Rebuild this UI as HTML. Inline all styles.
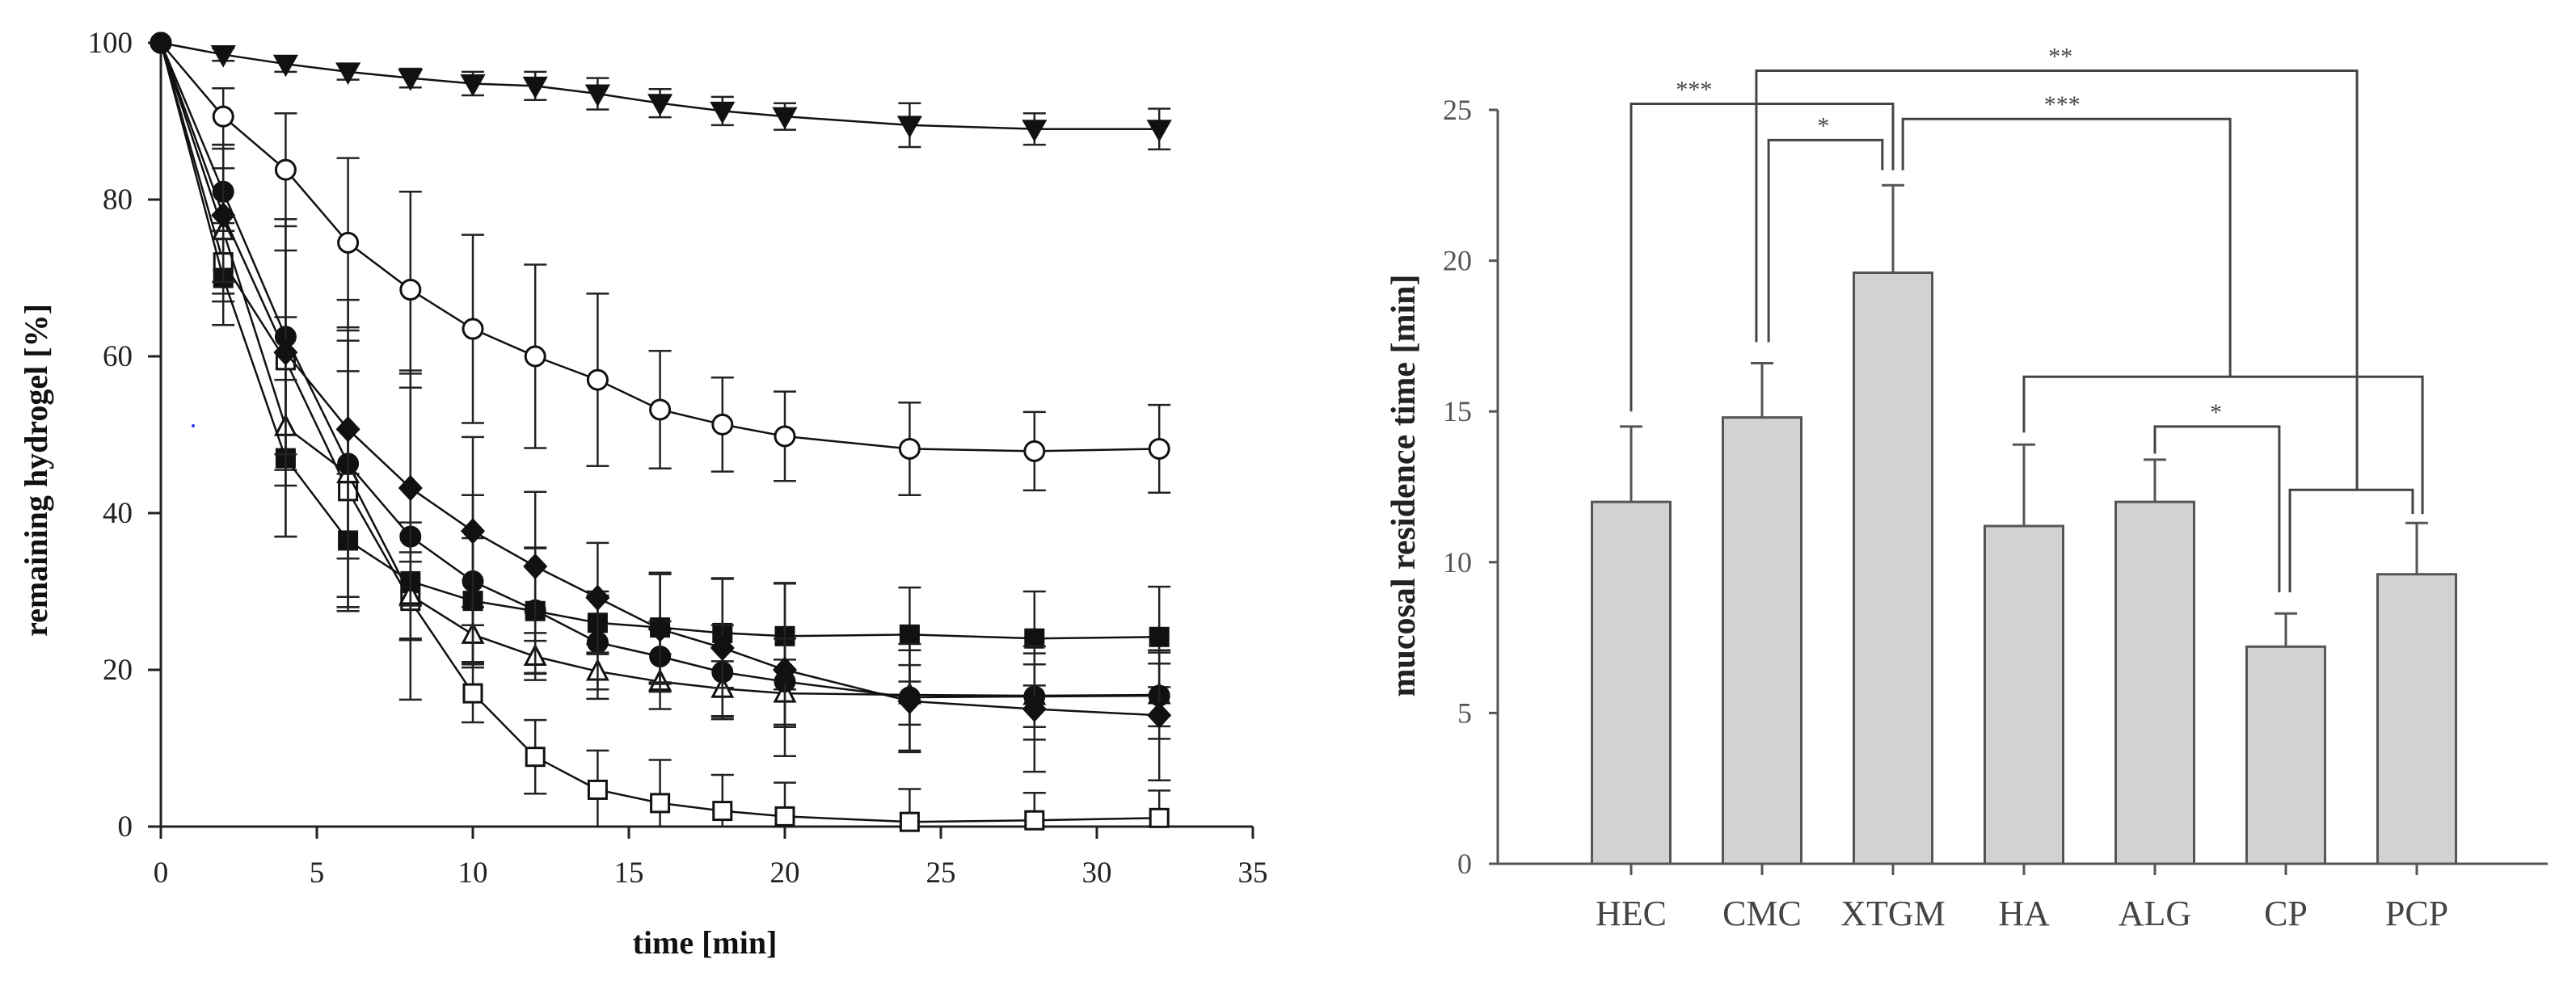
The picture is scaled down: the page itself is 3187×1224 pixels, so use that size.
<!DOCTYPE html>
<html><head><meta charset="utf-8"><style>
html,body{margin:0;padding:0;background:#fff;}
svg{display:block;}
</style></head><body>
<svg id="chart" width="3187" height="1224" viewBox="0 0 3187 1224" xmlns="http://www.w3.org/2000/svg" font-family="Liberation Serif, serif"></svg>
<script>
// ---------- Left chart data ----------
const times = [0,2,4,6,8,10,12,14,16,18,20,24,28,32];
const xTicks = [0,5,10,15,20,25,30,35];
const yTicksL = [0,20,40,60,80,100];
const triDownVals = [100,98.5,97.3,96.3,95.5,94.8,94.5,93.5,92.3,91.3,90.6,89.5,89,89];
const triDownErr  = [0,0.8,1,1,1.2,1.5,1.8,2,1.8,1.8,1.7,2.8,2,2.6];
const openCircVals = [100,90.6,83.8,74.5,68.5,63.5,60,57,53.2,51.3,49.8,48.2,47.9,48.2];
const openCircErr  = [0,3.6,7.2,10.8,12.5,12,11.7,11,7.5,6,5.7,5.9,5,5.6];
const diamondVals = [100,78,60.5,50.7,43.2,37.7,33.2,29.2,25.2,22.8,20,16,15,14.2];
const diamondErr  = [0,8.5,17,16.5,15,12,9.5,7,7,8.8,11,6.5,8,8.3];
const fCircVals = [100,81,62.5,46.3,37,31.3,27.6,23.5,21.7,19.7,18.5,16.5,16.6,16.7];
const fCircErr  = [0,6,15,17,20.8,11,8,6,4.5,6,5.5,6.8,5.5,5.5];
const fSqVals = [100,70,47,36.5,31.3,28.8,27.5,26,25.4,24.7,24.3,24.5,24,24.2];
const fSqErr  = [0,6,10,8.5,7.5,8,8,4,7,7,6.8,6,6,6.4];
const oTriVals = [100,76,51,45,29.5,24.5,21.7,19.8,18.5,17.6,17,16.8,16.7,16.8];
const oTriErr  = [0,8,14,17,5.5,3.5,3,3.5,3.5,3.5,4.3,3.8,4,4];
const oSqVals = [100,72,59.5,42.8,28.8,17,8.9,4.7,3,2,1.3,0.6,0.8,1.1];
const oSqErr  = [0,5,14,15.3,5,3.7,4.7,5,5.5,4.6,4.3,4.2,3.5,3.5];

// ---------- Right chart data ----------
const categories = ["HEC","CMC","XTGM","HA","ALG","CP","PCP"];
const residence = [12,14.8,19.6,11.2,12,7.2,9.6];
const residenceErr = [2.5,1.8,2.9,2.7,1.4,1.1,1.7];
const yTicksR = [0,5,10,15,20,25];

const NS="http://www.w3.org/2000/svg";
const svg=document.getElementById('chart');
function el(tag,attrs,parent){const e=document.createElementNS(NS,tag);for(const k in attrs)e.setAttribute(k,attrs[k]);(parent||svg).appendChild(e);return e;}

// ----- left axes -----
const LX0=199, LXS=(1550-199)/35, LY0=1023, LYS=(1023-53)/100;
const lx=v=>LX0+v*LXS, ly=v=>LY0-v*LYS;
const gL=el('g',{});


const axL=el('g',{stroke:'#222','stroke-width':3,fill:'none'},gL);


el('line',{x1:lx(0),y1:ly(100),x2:lx(0),y2:ly(0)+15},axL);
el('line',{x1:lx(0)-16,y1:ly(0),x2:lx(35),y2:ly(0)},axL);
xTicks.forEach(t=>{
  el('line',{x1:lx(t),y1:ly(0),x2:lx(t),y2:ly(0)+15},axL);
  const tx=el('text',{x:lx(t),y:1092,'font-size':37,'text-anchor':'middle',fill:'#222'},gL);
  tx.textContent=t;
  
  
});
yTicksL.forEach(t=>{
  el('line',{x1:lx(0)-16,y1:ly(t),x2:lx(0),y2:ly(t)},axL);
  const tx=el('text',{x:164,y:ly(t)+12,'font-size':37,'text-anchor':'end',fill:'#222'},gL);
  tx.textContent=t;
  
  
});
const xtl=el('text',{x:872,y:1180,'font-size':40,'font-weight':'bold','text-anchor':'middle',fill:'#111'},gL);
xtl.textContent='time [min]';


const ytl=el('text',{x:0,y:0,'font-size':40,'font-weight':'bold','text-anchor':'middle',fill:'#111',transform:'translate(58,582) rotate(-90)'},gL);
ytl.textContent='remaining hydrogel [%]';



function marker(type,x,y,g){
  const s=12;
  const filled=type.startsWith('f');
  const st={stroke:'#111','stroke-width':3,fill:filled?'#111':'#fff'};
  if(type.endsWith('circ')) return el('circle',Object.assign({cx:x,cy:y,r:s},st),g);
  if(type.endsWith('sq')) return el('rect',Object.assign({x:x-11,y:y-11,width:22,height:22},st),g);
  if(type==='fdiamond') return el('polygon',Object.assign({points:`${x},${y-14} ${x+13},${y} ${x},${y+14} ${x-13},${y}`},st),g);
  if(type==='ftridown') return el('polygon',Object.assign({points:`${x-13},${y-10} ${x+13},${y-10} ${x},${y+13}`},st),g);
  if(type==='otri') return el('polygon',Object.assign({points:`${x-12},${y+10} ${x+12},${y+10} ${x},${y-13}`},st),g);
}
const series=[
  ['open-square',oSqVals,oSqErr,'osq'],
  ['open-triangle',oTriVals,oTriErr,'otri'],
  ['filled-square',fSqVals,fSqErr,'fsq'],
  ['filled-circle',fCircVals,fCircErr,'fcirc'],
  ['filled-diamond',diamondVals,diamondErr,'fdiamond'],
  ['open-circle',openCircVals,openCircErr,'ocirc'],
  ['filled-triangle-down',triDownVals,triDownErr,'ftridown']
];
series.forEach(([name,vals,errs,mk])=>{
  const g=el('g',{},gL);
  
  
  const eg=el('g',{stroke:'#222','stroke-width':2.5},g);
  times.forEach((t,i)=>{
    if(!errs[i])return;
    const x=lx(t),y1=ly(Math.min(100,vals[i]+errs[i])),y2=ly(Math.max(0,vals[i]-errs[i]));
    el('line',{x1:x,y1:y1,x2:x,y2:y2},eg);
    el('line',{x1:x-14,y1:y1,x2:x+14,y2:y1},eg);
    el('line',{x1:x-14,y1:y2,x2:x+14,y2:y2},eg);
  });
  const pts=times.map((t,i)=>lx(t)+','+ly(vals[i])).join(' ');
  const pl=el('polyline',{points:pts,fill:'none',stroke:'#111','stroke-width':2.5},g);
  
  
  times.forEach((t,i)=>{
    const m=marker(i===0?'fcirc':mk,lx(t),ly(vals[i]),g);
    
    
  });
});

// ----- right chart -----
const RX0=1853, RY0=1069, RYS=(1069-136)/25, C0=2018, CS=162, BW=97;
const rx=i=>C0+i*CS, ry=v=>RY0-v*RYS;
const gR=el('g',{});


const axR=el('g',{stroke:'#555','stroke-width':3,fill:'none'},gR);


el('line',{x1:RX0,y1:ry(25),x2:RX0,y2:RY0},axR);
el('line',{x1:RX0-10,y1:RY0,x2:3152,y2:RY0},axR);
yTicksR.forEach(t=>{
  el('line',{x1:RX0-11,y1:ry(t),x2:RX0,y2:ry(t)},axR);
  const tx=el('text',{x:1821,y:ry(t)+12,'font-size':36,'text-anchor':'end',fill:'#555'},gR);
  tx.textContent=t;
  
  
});
categories.forEach((c,i)=>{
  const x=rx(i);
  el('line',{x1:x,y1:RY0,x2:x,y2:RY0+14},axR);
  const b=el('rect',{x:x-BW/2,y:ry(residence[i]),width:BW,height:RY0-ry(residence[i]),fill:'#d1d2d4',stroke:'#555','stroke-width':3},gR);
  
  
  const top=ry(residence[i]+residenceErr[i]);
  const eb=el('g',{stroke:'#555','stroke-width':3},gR);
  
  
  el('line',{x1:x,y1:ry(residence[i]),x2:x,y2:top},eb);
  el('line',{x1:x-14,y1:top,x2:x+14,y2:top},eb);
  const tx=el('text',{x:x,y:1145,'font-size':44,'text-anchor':'middle',fill:'#444'},gR);
  tx.textContent=c;
  
  
});
const ytr=el('text',{x:0,y:0,'font-size':42,'font-weight':'bold','text-anchor':'middle',fill:'#222',transform:'translate(1750,601) rotate(-90)'},gR);
ytr.textContent='mucosal residence time [min]';



// significance brackets: [leftX, leftBottomVal, topVal, rightX, rightBottomVal, label]
const k=1.012;
const brackets=[
  [rx(0),15.0,25.2,rx(2),23.0,'***'],
  [rx(1)-7*k,17.3,26.3,rx(5)+87*k,12.4,'**'],
  [rx(1)+8*k,17.3,24.0,rx(2)-13*k,23.0,'*'],
  [rx(2)+12*k,23.0,24.7,rx(4)+92*k,16.15,'***'],
  [rx(3),14.3,16.15,rx(6)+7*k,11.6,''],
  [rx(4),13.6,14.5,rx(5)-8*k,9.0,'*'],
  [rx(5)+5*k,9.0,12.4,rx(6)-5*k,11.6,'']
];
const labelX=[1600+490*k,1600+938*k,1600+648*k,1600+940*k,0,1600+1128*k,0];
brackets.forEach((b,i)=>{
  const g=el('g',{},gR);
  
  
  el('polyline',{points:`${b[0]},${ry(b[1])} ${b[0]},${ry(b[2])} ${b[3]},${ry(b[2])} ${b[3]},${ry(b[4])}`,fill:'none',stroke:'#444','stroke-width':3},g);
  if(b[5]){
    const t=el('text',{x:labelX[i],y:ry(b[2])-8,'font-size':30,'text-anchor':'middle',fill:'#444'},g);
    t.textContent=b[5];
    
    
  }
});
// stray blue dot
const dot=el('circle',{cx:239,cy:527,r:2,fill:'#33f'});


</script>
</body></html>
